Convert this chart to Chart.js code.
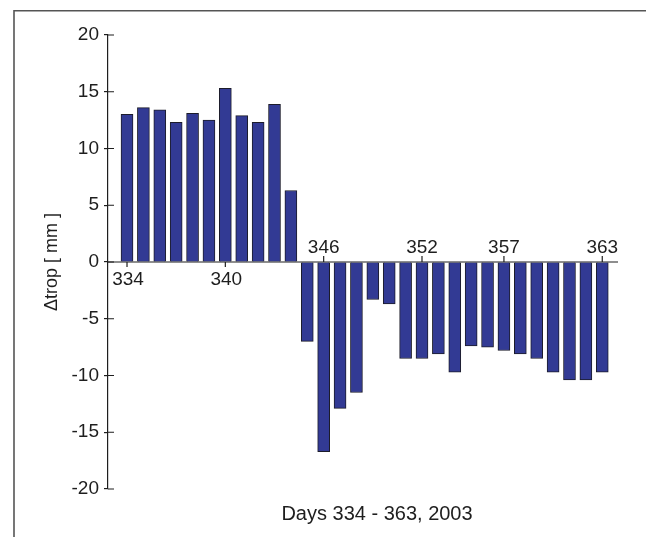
<!DOCTYPE html>
<html>
<head>
<meta charset="utf-8">
<script src="https://cdn.jsdelivr.net/npm/chart.js@4/dist/chart.umd.min.js"></script>
<style>
  html, body { margin: 0; padding: 0; background: #fff; }
  canvas { display: block; }
</style>
</head>
<body>
<canvas id="c" width="646" height="537"></canvas>
<script>
// Day of year, December 2003
const days = [334, 335, 336, 337, 338, 339, 340, 341, 342, 343,
              344, 345, 346, 347, 348, 349, 350, 351, 352, 353,
              354, 355, 356, 357, 358, 359, 360, 361, 362, 363];

// Tropospheric delay difference per day [mm]
const dtrop = [13.0, 13.6, 13.4, 12.3, 13.1, 12.5, 15.3, 12.9, 12.3, 13.9,
               6.3, -7.0, -16.7, -12.9, -11.5, -3.3, -3.7, -8.5, -8.5, -8.1,
               -9.7, -7.4, -7.5, -7.8, -8.1, -8.5, -9.7, -10.4, -10.4, -9.7];

// Labelled days on the zero line
const xTickDays = [334, 340, 346, 352, 357, 363];
const xTicksBelow = [334, 340];

const yTicks = [-20, -15, -10, -5, 0, 5, 10, 15, 20];

const FONT = '"Liberation Sans", Arial, Helvetica, sans-serif';
const INK = '#1e1e1e';

const decorations = {
  id: 'decorations',
  beforeDraw(chart) {
    const ctx = chart.ctx;
    ctx.save();
    ctx.fillStyle = '#fff';
    ctx.fillRect(0, 0, chart.width, chart.height);
    // frame (top and left edges)
    ctx.strokeStyle = '#555';
    ctx.lineWidth = 1.6;
    ctx.beginPath();
    ctx.moveTo(chart.width, 10.7);
    ctx.lineTo(14, 10.7);
    ctx.lineTo(14, chart.height);
    ctx.stroke();
    ctx.restore();
  },
  afterDatasetsDraw(chart) {
    const ctx = chart.ctx;
    const xs = chart.scales.x, ys = chart.scales.y;
    const area = chart.chartArea;
    const y0 = ys.getPixelForValue(0);
    ctx.save();
    ctx.strokeStyle = INK;
    ctx.lineWidth = 1.2;

    // zero line used as the day axis
    ctx.beginPath();
    ctx.moveTo(area.left, y0);
    ctx.lineTo(area.right, y0);
    ctx.stroke();

    // inner half of the value-axis ticks
    ctx.beginPath();
    yTicks.forEach(v => {
      const py = ys.getPixelForValue(v);
      ctx.moveTo(area.left, py);
      ctx.lineTo(area.left + 6, py);
    });
    ctx.stroke();

    // day ticks and labels
    ctx.fillStyle = INK;
    ctx.font = '19px ' + FONT;
    ctx.textAlign = 'center';
    xTickDays.forEach(d => {
      const px = xs.getPixelForValue(d);
      const below = xTicksBelow.includes(d);
      ctx.beginPath();
      ctx.moveTo(px, y0);
      ctx.lineTo(px, below ? y0 + 5 : y0 - 6);
      ctx.stroke();
      if (below) {
        ctx.textBaseline = 'alphabetic';
        ctx.fillText(String(d), px + 1, y0 + 23);
      } else {
        ctx.textBaseline = 'alphabetic';
        ctx.fillText(String(d), px, y0 - 9);
      }
    });

    // day axis title
    ctx.font = '20px ' + FONT;
    ctx.textBaseline = 'alphabetic';
    ctx.fillText('Days 334 - 363, 2003', 377, 520);
    ctx.restore();
  }
};

new Chart(document.getElementById('c'), {
  type: 'bar',
  data: {
    datasets: [{
      data: days.map((d, i) => ({ x: d, y: dtrop[i] })),
      backgroundColor: '#323a94',
      borderColor: '#1c1c2a',
      borderWidth: 1,
      borderSkipped: 'start',
      barThickness: 12
    }]
  },
  options: {
    responsive: false,
    animation: false,
    devicePixelRatio: 1,
    layout: { padding: { left: 0, right: 28, top: 35, bottom: 48 } },
    plugins: { legend: { display: false }, tooltip: { enabled: false } },
    scales: {
      x: {
        type: 'linear',
        display: false,
        offset: false,
        bounds: 'data',
        min: 332.84,
        max: 363.96
      },
      y: {
        min: -20,
        max: 20,
        afterFit(scale) { scale.width = 108; },
        afterBuildTicks(scale) { scale.ticks = yTicks.map(v => ({ value: v })); },
        border: { display: true, color: INK, width: 1.2 },
        grid: { drawOnChartArea: false, drawTicks: true, tickLength: 4, color: INK, lineWidth: 1.2 },
        ticks: {
          padding: 5,
          color: INK,
          font: { family: FONT, size: 19 }
        },
        title: {
          display: true,
          text: 'Δtrop [ mm ]',
          color: INK,
          font: { family: FONT, size: 18 },
          padding: { top: 41, bottom: 0 }
        }
      }
    }
  },
  plugins: [decorations]
});
</script>
</body>
</html>
